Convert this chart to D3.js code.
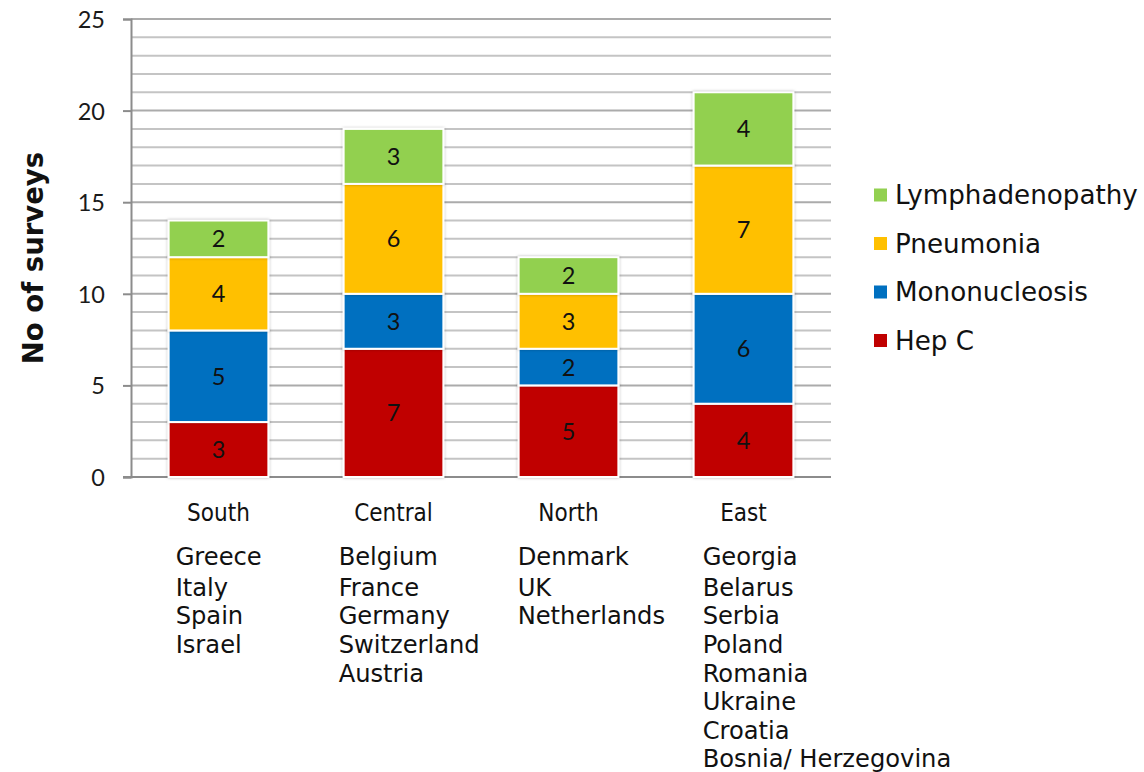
<!DOCTYPE html>
<html>
<head>
<meta charset="utf-8">
<script src="https://cdn.jsdelivr.net/npm/d3@7"></script>
<style>
  html, body { margin: 0; padding: 0; background: #ffffff; }
  svg { display: block; }
</style>
</head>
<body>
<svg id="chart" width="1144" height="772"></svg>
<script>
// Survey counts per region, stacked by condition
const regions = ["South", "Central", "North", "East"];
const seriesNames = ["Hep C", "Mononucleosis", "Pneumonia", "Lymphadenopathy"];
const hepC = [3, 7, 5, 4];
const mononucleosis = [5, 3, 2, 6];
const pneumonia = [4, 6, 3, 7];
const lymphadenopathy = [2, 3, 2, 4];
const yTicks = [0, 5, 10, 15, 20, 25];

// Countries covered by each region
const southCountries = ["Greece", "Italy", "Spain", "Israel"];
const centralCountries = ["Belgium", "France", "Germany", "Switzerland", "Austria"];
const northCountries = ["Denmark", "UK", "Netherlands"];
const eastCountries = ["Georgia", "Belarus", "Serbia", "Poland", "Romania", "Ukraine", "Croatia", "Bosnia/ Herzegovina"];

const seriesColors = {
  "Hep C": "#C00000",
  "Mononucleosis": "#0070C0",
  "Pneumonia": "#FFC000",
  "Lymphadenopathy": "#92D050"
};

const rows = regions.map((r, i) => ({
  region: r,
  "Hep C": hepC[i],
  "Mononucleosis": mononucleosis[i],
  "Pneumonia": pneumonia[i],
  "Lymphadenopathy": lymphadenopathy[i]
}));
const countryLists = [southCountries, centralCountries, northCountries, eastCountries];

const svg = d3.select("#chart");
const plot = { left: 131, right: 831, top: 19, bottom: 477 };

const x = d3.scaleBand()
  .domain(regions)
  .range([plot.left, plot.right])
  .paddingInner(0.43)
  .paddingOuter(0.215);

const y = d3.scaleLinear()
  .domain([0, 25])
  .range([plot.bottom, plot.top]);

// soft shadow behind the bars
const defs = svg.append("defs");
const shadow = defs.append("filter").attr("id", "barShadow")
  .attr("x", "-10%").attr("y", "-10%").attr("width", "120%").attr("height", "120%");
shadow.append("feDropShadow")
  .attr("dx", 0).attr("dy", 0).attr("stdDeviation", 1.6)
  .attr("flood-color", "#000").attr("flood-opacity", 0.28);

// horizontal gridlines at every unit
const gridVals = d3.range(1, 26);
svg.append("g").selectAll("line")
  .data(gridVals)
  .join("line")
  .attr("x1", plot.left).attr("x2", plot.right)
  .attr("y1", d => y(d)).attr("y2", d => y(d))
  .attr("stroke", d => d % 5 === 0 ? "#ababab" : "#c4c4c4")
  .attr("stroke-width", 2);

// y axis with ticks at multiples of five
const yAxis = svg.append("g")
  .attr("transform", `translate(${plot.left},0)`)
  .call(d3.axisLeft(y).tickValues(yTicks).tickSize(8).tickPadding(18).tickFormat(d3.format("d")));
yAxis.select(".domain").attr("stroke", "#8c8c8c").attr("stroke-width", 2);
yAxis.selectAll(".tick line").attr("stroke", "#8c8c8c").attr("stroke-width", 2);
yAxis.selectAll(".tick text")
  .attr("font-family", "Lato, 'Open Sans', sans-serif")
  .attr("font-size", 23.5)
  .attr("fill", "#1a1a1a")
  .attr("dy", "0.36em");

// baseline
svg.append("line")
  .attr("x1", plot.left - 8).attr("x2", plot.right)
  .attr("y1", y(0)).attr("y2", y(0))
  .attr("stroke", "#8c8c8c").attr("stroke-width", 2);

// stacked bars
const stack = d3.stack().keys(seriesNames);
const stacked = stack(rows);

const layers = svg.append("g").selectAll("g")
  .data(stacked)
  .join("g")
  .attr("fill", d => seriesColors[d.key]);

layers.selectAll("rect")
  .data(d => d.map(p => ({ p, key: d.key })))
  .join("rect")
  .attr("x", d => x(d.p.data.region))
  .attr("y", d => y(d.p[1]))
  .attr("width", x.bandwidth())
  .attr("height", d => y(d.p[0]) - y(d.p[1]))
  .attr("stroke", "#ffffff")
  .attr("stroke-width", 2)
  .attr("filter", "url(#barShadow)");

// value labels centred in each segment
layers.selectAll("text")
  .data(d => d.map(p => ({ p, key: d.key })))
  .join("text")
  .attr("x", d => x(d.p.data.region) + x.bandwidth() / 2)
  .attr("y", d => (y(d.p[0]) + y(d.p[1])) / 2)
  .attr("dy", "0.36em")
  .attr("text-anchor", "middle")
  .attr("font-family", "Lato, 'Open Sans', sans-serif")
  .attr("font-size", 23.5)
  .attr("fill", "#111")
  .text(d => d.p[1] - d.p[0]);

// region names under the bars
svg.append("g").selectAll("text")
  .data(regions)
  .join("text")
  .attr("x", d => x(d) + x.bandwidth() / 2)
  .attr("y", 512)
  .attr("dy", "0.36em")
  .attr("text-anchor", "middle")
  .attr("font-family", "'DejaVu Sans Condensed', 'DejaVu Sans', sans-serif")
  .attr("font-stretch", "condensed")
  .attr("font-size", 24)
  .attr("fill", "#111")
  .text(d => d);

// country lists, left aligned under each region
const listIndent = [7, -5, -1, 9];
const countryGroups = svg.append("g").selectAll("g")
  .data(countryLists)
  .join("g")
  .attr("transform", (d, i) => `translate(${x(regions[i]) + listIndent[i]},0)`);
countryGroups.selectAll("text")
  .data(d => d)
  .join("text")
  .attr("x", 0)
  .attr("y", (d, j) => j === 0 ? 556 : 587 + (j - 1) * 28.6)
  .attr("dy", "0.36em")
  .attr("font-family", "'DejaVu Sans', Verdana, sans-serif")
  .attr("font-size", 24.2)
  .attr("fill", "#111")
  .text(d => d);

// y axis title
svg.append("text")
  .attr("transform", "translate(33,258) rotate(-90)")
  .attr("text-anchor", "middle")
  .attr("dy", "0.36em")
  .attr("font-family", "'DejaVu Sans', Verdana, sans-serif")
  .attr("font-weight", "bold")
  .attr("font-size", 27.5)
  .attr("fill", "#111")
  .text("No of surveys");

// legend, top series first
const legendItems = seriesNames.slice().reverse();
const legend = svg.append("g").selectAll("g")
  .data(legendItems)
  .join("g")
  .attr("transform", (d, i) => `translate(874,${195 + i * 48.5})`);
legend.append("rect")
  .attr("x", 0).attr("y", -6.5)
  .attr("width", 13).attr("height", 13)
  .attr("fill", d => seriesColors[d]);
legend.append("text")
  .attr("x", 21).attr("y", 0)
  .attr("dy", "0.36em")
  .attr("font-family", "'DejaVu Sans', Verdana, sans-serif")
  .attr("font-size", 26.2)
  .attr("fill", "#111")
  .text(d => d);
</script>
</body>
</html>
